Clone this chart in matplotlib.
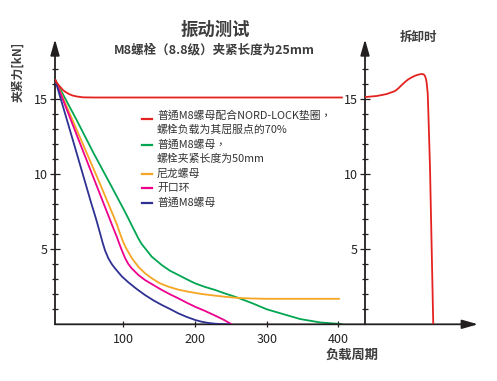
import matplotlib
matplotlib.use("Agg")
import matplotlib.pyplot as plt
from matplotlib.lines import Line2D

plt.rcParams['font.family'] = ['Noto Sans CJK SC', 'DejaVu Sans']

# ---------------- data ----------------
title = "振动测试"
subtitle = "M8螺栓（8.8级）夹紧长度为25mm"
right_title = "拆卸时"
ylabel = "夹紧力[kN]"
xlabel = "负载周期"

series_labels = [
    "普通M8螺母配合NORD-LOCK垫圈，\n螺栓负载为其屈服点的70%",
    "普通M8螺母，\n螺栓夹紧长度为50mm",
    "尼龙螺母",
    "开口环",
    "普通M8螺母",
]
series_colors = ["#e42320", "#00a651", "#f6a623", "#ec008c", "#2e3192"]

red_x = [4.6, 6.5, 8, 10, 11.6, 13.5, 15, 18, 20.9, 25, 30, 36, 44, 60, 406]
red_y = [16.33, 16.15, 16.05, 15.93, 15.84, 15.74, 15.65, 15.53, 15.44, 15.33, 15.24,
         15.18, 15.13, 15.12, 15.12]

green_x = [4.6, 35, 58, 81.3, 100, 107, 111.6, 116.2, 120.8, 125.5, 130.2, 139.5, 153.5,
           165, 176.6, 188.4, 200, 213.9, 227.9, 242, 258, 280, 300, 325, 346.6, 375,
           400, 405]
green_y = [16.33, 13.6, 11.45, 9.38, 7.7, 7.05, 6.6, 6.17, 5.73, 5.35, 5.07, 4.51, 3.95,
           3.57, 3.29, 3.0, 2.73, 2.49, 2.29, 2.05, 1.8, 1.4, 1.0, 0.65, 0.35, 0.12,
           0.03, 0.0]

orange_x = [4.6, 40, 70, 85, 90.7, 95.3, 100, 103.5, 106.9, 111.6, 120.8, 130.2, 139.5,
            151.1, 162.7, 176.6, 190.6, 209.3, 227.9, 245, 262, 280, 300, 402]
orange_y = [16.33, 12.4, 9.07, 7.35, 6.68, 6.05, 5.45, 5.1, 4.82, 4.42, 3.84, 3.4, 3.07,
            2.73, 2.51, 2.31, 2.17, 2.02, 1.91, 1.82, 1.75, 1.72, 1.7, 1.7]

pink_x = [4.6, 40, 70, 80, 86, 90.7, 93.9, 97.7, 102.3, 106.9, 111.6, 120.8, 130.2,
          141.8, 153.5, 165, 176.6, 188.4, 200, 213.9, 227.9, 240, 251]
pink_y = [16.33, 12.0, 8.35, 7.13, 6.4, 5.85, 5.42, 4.95, 4.42, 4.02, 3.73, 3.29, 2.95,
          2.62, 2.29, 2.0, 1.73, 1.44, 1.17, 0.89, 0.58, 0.3, 0.0]

blue_x = [4.6, 30, 55, 62, 67, 71, 74.4, 79, 84, 88.3, 97.7, 106.9, 118.6, 130.2, 141.8,
          153.5, 165, 176.6, 188.4, 200, 209.3, 218.5, 228, 238, 249]
blue_y = [16.33, 12.2, 8.1, 7.0, 6.15, 5.45, 4.92, 4.4, 4.0, 3.73, 3.2, 2.8, 2.35, 1.95,
          1.6, 1.29, 1.02, 0.73, 0.49, 0.29, 0.17, 0.09, 0.04, 0.01, 0.0]

unload_x = [0, 10.4, 19.2, 26.5, 29.5, 32.5, 35.5, 38.3, 41.5, 44.2, 47.5, 50.2, 52,
            53.1, 54.0, 54.6, 55.5, 56.0, 57.5, 60.4]
unload_y = [15.15, 15.22, 15.35, 15.55, 15.73, 15.95, 16.16, 16.33, 16.47, 16.57, 16.65,
            16.69, 16.66, 16.55, 16.35, 16.07, 15.4, 14.29, 10.5, 0.0]

x_ticks = [100, 200, 300, 400]
y_major = [5, 10, 15]
y_minor = [v for v in range(1, 18) if v not in y_major]

# ---------------- layout ----------------
W, H = 497, 381
fig = plt.figure(figsize=(W / 100, H / 100), dpi=100)
fig.patch.set_facecolor("white")

def fx(px):
    return px / W

def fy(py):
    return 1 - py / H

ax_col = "#231f20"
txt_col = "#3d3d3d"
tc_font = ['Noto Sans CJK TC', 'DejaVu Sans']

y0_px, ytop_px = 324.3, 324.3 - 19 * 15
axL = fig.add_axes([fx(55), fy(y0_px), fx(365) - fx(55), fy(ytop_px) - fy(y0_px)])
axR = fig.add_axes([fx(365), fy(y0_px), fx(478) - fx(365), fy(ytop_px) - fy(y0_px)])

for ax in (axL, axR):
    ax.set_facecolor("none")
    for s in ax.spines.values():
        s.set_visible(False)
    ax.set_ylim(0, 19)
    ax.set_yticks(y_major)
    ax.set_yticks(y_minor, minor=True)
    ax.set_yticklabels([str(v) for v in y_major])
    ax.tick_params(axis='y', which='major', direction='inout', length=7, width=0.9,
                   color=ax_col, labelsize=9, labelcolor="#222222", pad=1.5)
    ax.tick_params(axis='y', which='minor', direction='inout', length=5, width=0.9,
                   color=ax_col)

axL.set_xlim(4.6, 437)
axR.set_xlim(0, 100)
axL.set_xticks(x_ticks)
axL.set_xticklabels([str(v) for v in x_ticks])
axL.tick_params(axis='x', which='major', direction='inout', length=5, width=0.9,
                color=ax_col, labelsize=9, labelcolor="#222222", pad=3.5)
axR.set_xticks([])

lw = 1.3
kw = dict(lw=lw, solid_capstyle='butt', solid_joinstyle='round')
axL.plot(green_x, green_y, color=series_colors[1], zorder=3, **kw)
axL.plot(orange_x, orange_y, color=series_colors[2], zorder=4, **kw)
axL.plot(pink_x, pink_y, color=series_colors[3], zorder=4, **kw)
axL.plot(blue_x, blue_y, color=series_colors[4], zorder=4, **kw)
axL.plot(red_x, red_y, color=series_colors[0], zorder=5, **kw)
axR.plot(unload_x, unload_y, color=series_colors[0], zorder=5, **kw)

# axis arrows
arrow_kw = dict(arrowstyle='-|>,head_length=0.95,head_width=0.27', color=ax_col,
                lw=1.3, shrinkA=0, shrinkB=0, mutation_scale=10)
for ax in (axL, axR):
    ax.annotate('', xy=(0, 1), xycoords=ax.transAxes, xytext=(0, 0),
                textcoords=ax.transAxes, arrowprops=arrow_kw, annotation_clip=False)
axL.annotate('', xy=(1, 0), xycoords=axR.transAxes, xytext=(0, 0),
             textcoords=axL.transAxes, arrowprops=arrow_kw, annotation_clip=False)

# texts
fig.text(fx(215), fy(30), title, ha='center', va='center', fontsize=12.5,
         fontweight='bold', color=txt_col)
fig.text(fx(214), fy(50), subtitle, ha='center', va='center', fontsize=9,
         fontweight='bold', color=txt_col, family=tc_font)
fig.text(fx(418), fy(37), right_title, ha='center', va='center', fontsize=9,
         fontweight='bold', color=txt_col)
fig.text(fx(352), fy(355), xlabel, ha='center', va='center', fontsize=9.5,
         fontweight='bold', color=txt_col)
fig.text(fx(18), fy(72), ylabel, ha='center', va='center', rotation=90, fontsize=8.5,
         fontweight='bold', color=txt_col)

# legend (manual)
row_py = 115.0
pitch = 14.6
for lab, col in zip(series_labels, series_colors):
    lines = lab.split("\n")
    my = row_py + (4 if len(lines) > 1 and col == series_colors[0] else 0.5)
    fig.add_artist(Line2D([fx(141.7), fx(151.7)], [fy(my), fy(my)], color=col, lw=1.6))
    for i, ln in enumerate(lines):
        fig.text(fx(157), fy(row_py + i * pitch), ln, ha='left', va='center',
                 fontsize=7.8, color="#333333", family=tc_font)
    row_py += pitch * len(lines)

fig.savefig("out.png", dpi=100, facecolor="white")
